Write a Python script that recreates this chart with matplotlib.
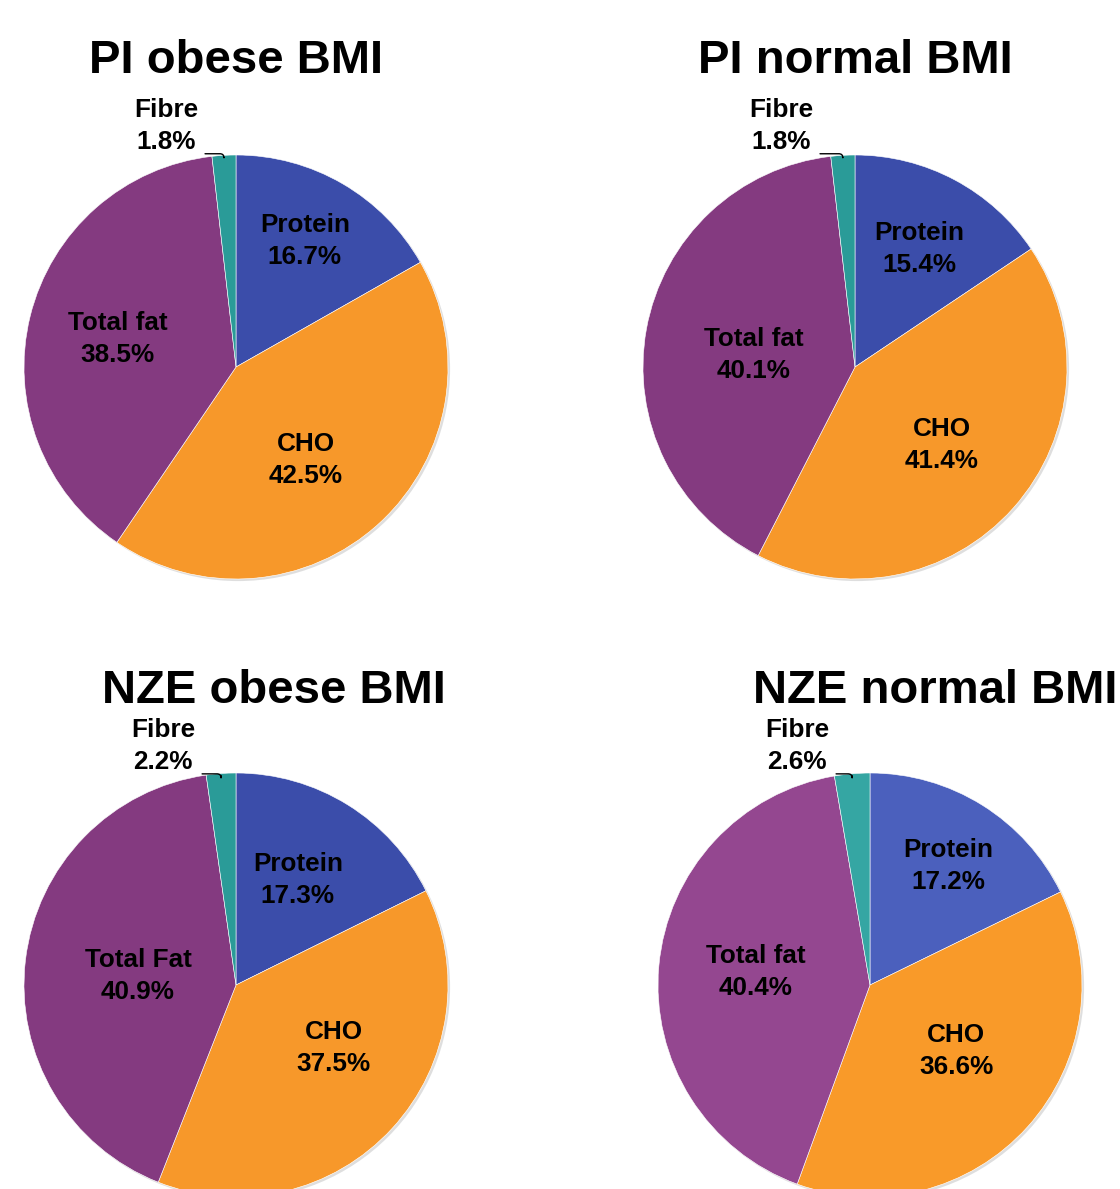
import matplotlib
matplotlib.use("Agg")
import matplotlib.pyplot as plt
import matplotlib.patheffects as pe
from matplotlib.patches import Circle
import numpy as np

plt.rcParams["font.family"] = ["Liberation Sans", "DejaVu Sans"]

# Macronutrient shares (% of energy) per group
categories = ["Protein", "CHO", "Total fat", "Fibre"]
titles = ["PI obese BMI", "PI normal BMI", "NZE obese BMI", "NZE normal BMI"]
pi_obese = [16.7, 42.5, 38.5, 1.8]
pi_normal = [15.4, 41.4, 40.1, 1.8]
nze_obese = [17.3, 37.5, 40.9, 2.2]
nze_normal = [17.2, 36.6, 40.4, 2.6]
fat_names = ["Total fat", "Total fat", "Total Fat", "Total fat"]

groups = [pi_obese, pi_normal, nze_obese, nze_normal]

# Slice colours (the NZE normal panel uses a lighter palette)
dark_colors = ["#3B4DAA", "#F7982A", "#843A80", "#2A9B98"]
light_colors = ["#4B60BD", "#F99A29", "#944790", "#35A6A3"]
palettes = [dark_colors, dark_colors, dark_colors, light_colors]

W, H = 1120, 1189
R = 212
centers = [(236, 367), (855, 367), (236, 985), (870, 985)]

# Label anchors in pie units (radius = 1): Protein, CHO, Total fat, Fibre
label_pos = [
    [(0.325, 0.594), (0.33, -0.439), (-0.557, 0.132), (-0.33, 1.137)],
    [(0.302, 0.557), (0.41, -0.368), (-0.476, 0.057), (-0.349, 1.137)],
    [(0.292, 0.495), (0.462, -0.297), (-0.462, 0.042), (-0.344, 1.127)],
    [(0.368, 0.561), (0.406, -0.311), (-0.538, 0.061), (-0.344, 1.127)],
]
title_pos = [(0.0, 1.387), (0.0, 1.387), (0.18, 1.33), (0.31, 1.33)]

fig = plt.figure(figsize=(W / 100, H / 100), dpi=100)
fig.patch.set_facecolor("white")

label_fs = 18.8
line_sp = 1.4
for i, vals in enumerate(groups):
    cx, cy = centers[i]
    ax = fig.add_axes([(cx - R) / W, (H - cy - R) / H, 2 * R / W, 2 * R / H])

    # soft drop shadow under the whole pie
    base = Circle((0, 0), 1.0, facecolor="white", edgecolor="none", zorder=0,
                  clip_on=False)
    base.set_path_effects([pe.SimplePatchShadow(offset=(1.5, -1.5), alpha=0.18),
                           pe.Normal()])
    ax.add_patch(base)

    wedges, _ = ax.pie(vals, colors=palettes[i], startangle=90, counterclock=False,
                       radius=1.0, center=(0, 0), normalize=True,
                       wedgeprops=dict(edgecolor="white", linewidth=0.4, zorder=1))
    ax.set_xlim(-1, 1)
    ax.set_ylim(-1, 1)
    ax.set_aspect("equal")
    ax.axis("off")
    for w in wedges:
        w.set_clip_on(False)

    names = list(categories)
    names[2] = fat_names[i]
    for j, (name, v) in enumerate(zip(names, vals)):
        tx, ty = label_pos[i][j]
        txt = f"{name}\n{v:.1f}%"
        if j == 3:
            w = wedges[j]
            mid = np.deg2rad((w.theta1 + w.theta2) / 2)
            ax.annotate(txt, xy=(np.cos(mid), np.sin(mid) - 0.01), xytext=(tx, ty),
                        ha="center", va="center", fontsize=label_fs, fontweight="bold",
                        linespacing=line_sp, annotation_clip=False,
                        arrowprops=dict(arrowstyle="-", color="black", lw=1.0,
                                        relpos=(1.0, 0.0), shrinkA=3, shrinkB=0,
                                        connectionstyle="angle,angleA=0,angleB=90,rad=4"))
        else:
            ax.text(tx, ty, txt, ha="center", va="center", fontsize=label_fs,
                    fontweight="bold", linespacing=line_sp, color="black")

    ax.text(title_pos[i][0], title_pos[i][1], titles[i], ha="center", va="baseline",
            fontsize=34, fontweight="bold", color="black", clip_on=False)

fig.savefig("out.png", dpi=100, facecolor="white")
